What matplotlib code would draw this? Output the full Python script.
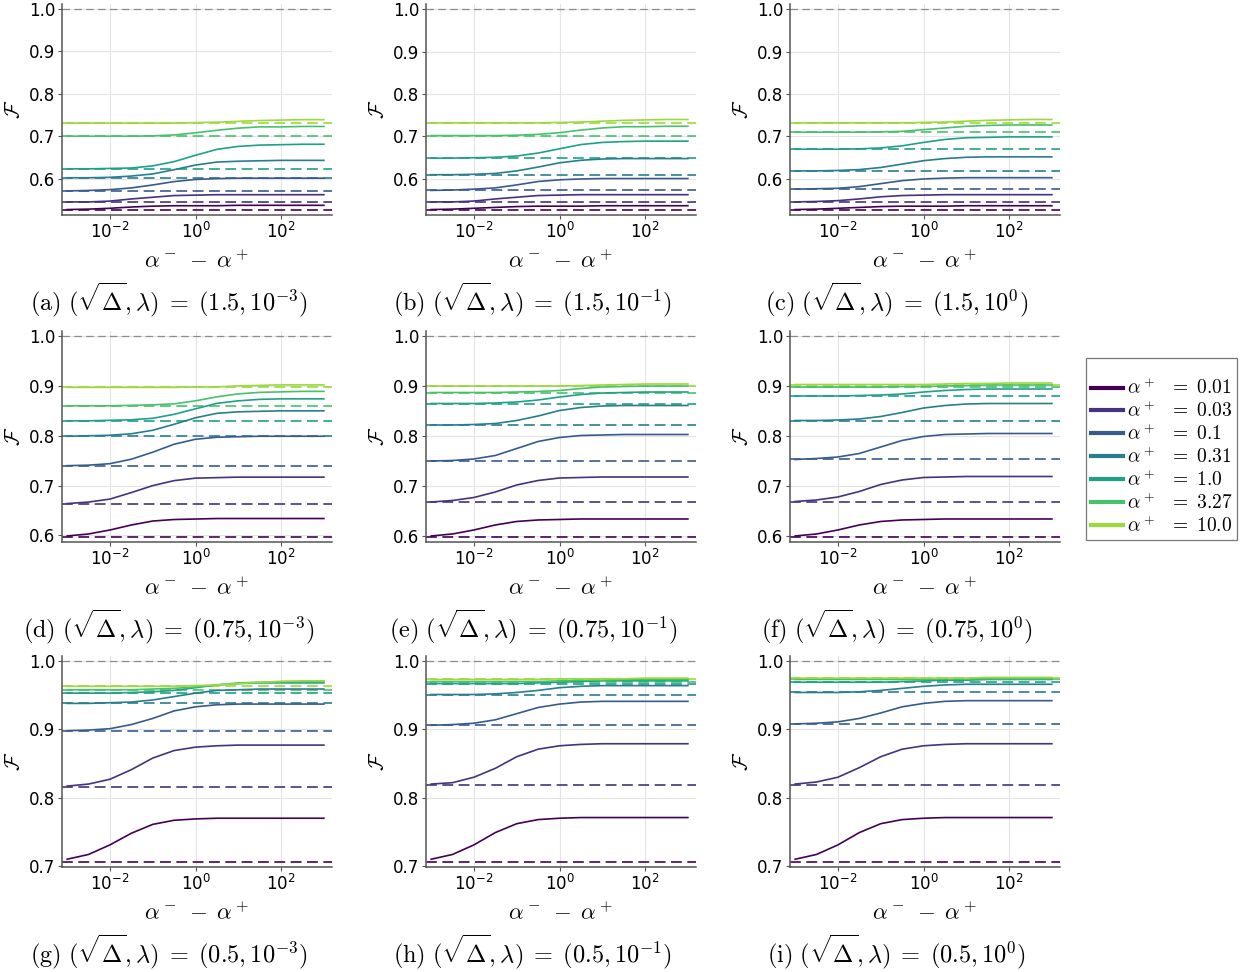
import matplotlib
matplotlib.use("Agg")
import matplotlib.pyplot as plt
from matplotlib.lines import Line2D
from matplotlib.font_manager import FontProperties
from matplotlib.ticker import FixedLocator, LogFormatterSciNotation, MultipleLocator, NullLocator

# x axis: alpha^- - alpha^+  (half-decade samples)
alpha_diff = [0.001, 0.00316, 0.01, 0.0316, 0.1, 0.316, 1.0, 3.16, 10.0, 31.6, 100.0, 316.0, 1000.0]
alpha_plus = [0.01, 0.03, 0.1, 0.31, 1.0, 3.27, 10.0]
sqrt_delta_rows = [1.5, 0.75, 0.5]
lambda_exps = [-3, -1, 0]
panel_letters = ["a", "b", "c", "d", "e", "f", "g", "h", "i"]

# dashed reference levels (one per alpha^+)
base_a = [0.526, 0.544, 0.571, 0.602, 0.623, 0.700, 0.731]
base_b = [0.527, 0.545, 0.573, 0.610, 0.649, 0.702, 0.732]
base_c = [0.527, 0.546, 0.576, 0.619, 0.670, 0.710, 0.732]
base_d = [0.597, 0.663, 0.739, 0.799, 0.830, 0.860, 0.897]
base_e = [0.598, 0.667, 0.749, 0.822, 0.865, 0.887, 0.900]
base_f = [0.598, 0.668, 0.753, 0.831, 0.880, 0.898, 0.903]
base_g = [0.706, 0.815, 0.898, 0.938, 0.953, 0.958, 0.963]
base_h = [0.706, 0.818, 0.906, 0.951, 0.967, 0.970, 0.973]
base_i = [0.706, 0.819, 0.908, 0.954, 0.969, 0.973, 0.975]

# solid curves F(alpha^- - alpha^+)
fid_a = [
    [0.527, 0.528, 0.530, 0.533, 0.535, 0.536, 0.536, 0.536, 0.537, 0.537, 0.537, 0.537, 0.537],
    [0.545, 0.545, 0.547, 0.552, 0.556, 0.560, 0.561, 0.562, 0.562, 0.562, 0.562, 0.562, 0.562],
    [0.571, 0.572, 0.574, 0.578, 0.585, 0.593, 0.598, 0.600, 0.601, 0.601, 0.601, 0.601, 0.601],
    [0.602, 0.602, 0.603, 0.606, 0.611, 0.621, 0.632, 0.639, 0.641, 0.642, 0.643, 0.643, 0.643],
    [0.623, 0.623, 0.624, 0.625, 0.630, 0.640, 0.655, 0.669, 0.676, 0.679, 0.680, 0.681, 0.681],
    [0.700, 0.700, 0.700, 0.700, 0.701, 0.703, 0.708, 0.714, 0.719, 0.722, 0.722, 0.723, 0.723],
    [0.731, 0.731, 0.731, 0.731, 0.731, 0.731, 0.732, 0.733, 0.735, 0.737, 0.738, 0.739, 0.739],
]
fid_b = [
    [0.528, 0.529, 0.531, 0.533, 0.535, 0.536, 0.536, 0.536, 0.537, 0.537, 0.537, 0.537, 0.537],
    [0.546, 0.546, 0.548, 0.553, 0.557, 0.561, 0.562, 0.563, 0.563, 0.563, 0.563, 0.563, 0.563],
    [0.573, 0.574, 0.576, 0.579, 0.586, 0.594, 0.598, 0.600, 0.601, 0.601, 0.601, 0.601, 0.601],
    [0.610, 0.610, 0.611, 0.613, 0.619, 0.628, 0.638, 0.644, 0.647, 0.648, 0.648, 0.648, 0.648],
    [0.649, 0.649, 0.650, 0.651, 0.654, 0.661, 0.671, 0.681, 0.686, 0.688, 0.689, 0.689, 0.689],
    [0.702, 0.702, 0.702, 0.702, 0.703, 0.705, 0.709, 0.715, 0.720, 0.723, 0.723, 0.724, 0.724],
    [0.732, 0.732, 0.732, 0.732, 0.732, 0.732, 0.733, 0.734, 0.736, 0.738, 0.739, 0.740, 0.740],
]
fid_c = [
    [0.528, 0.529, 0.531, 0.533, 0.535, 0.536, 0.536, 0.536, 0.537, 0.537, 0.537, 0.537, 0.537],
    [0.546, 0.547, 0.549, 0.553, 0.558, 0.561, 0.562, 0.563, 0.563, 0.563, 0.563, 0.563, 0.563],
    [0.576, 0.577, 0.578, 0.582, 0.589, 0.596, 0.600, 0.602, 0.603, 0.603, 0.603, 0.603, 0.603],
    [0.619, 0.619, 0.620, 0.622, 0.627, 0.635, 0.643, 0.648, 0.651, 0.652, 0.652, 0.652, 0.652],
    [0.670, 0.670, 0.670, 0.671, 0.673, 0.678, 0.686, 0.693, 0.697, 0.698, 0.699, 0.699, 0.699],
    [0.710, 0.710, 0.710, 0.710, 0.711, 0.712, 0.716, 0.720, 0.724, 0.726, 0.727, 0.727, 0.727],
    [0.732, 0.732, 0.732, 0.732, 0.732, 0.732, 0.733, 0.734, 0.736, 0.738, 0.739, 0.740, 0.740],
]
fid_d = [
    [0.599, 0.603, 0.611, 0.621, 0.629, 0.632, 0.633, 0.634, 0.634, 0.634, 0.634, 0.634, 0.634],
    [0.664, 0.667, 0.673, 0.686, 0.700, 0.710, 0.715, 0.716, 0.717, 0.717, 0.717, 0.717, 0.717],
    [0.740, 0.741, 0.744, 0.753, 0.767, 0.783, 0.793, 0.797, 0.798, 0.799, 0.799, 0.799, 0.799],
    [0.799, 0.800, 0.801, 0.804, 0.811, 0.823, 0.836, 0.845, 0.848, 0.849, 0.850, 0.850, 0.850],
    [0.830, 0.830, 0.831, 0.832, 0.835, 0.843, 0.854, 0.865, 0.870, 0.873, 0.874, 0.874, 0.874],
    [0.860, 0.860, 0.860, 0.861, 0.862, 0.864, 0.870, 0.878, 0.884, 0.887, 0.888, 0.889, 0.889],
    [0.897, 0.897, 0.897, 0.897, 0.897, 0.897, 0.898, 0.898, 0.900, 0.901, 0.902, 0.902, 0.902],
]
fid_e = [
    [0.600, 0.604, 0.612, 0.622, 0.629, 0.632, 0.633, 0.634, 0.634, 0.634, 0.634, 0.634, 0.634],
    [0.668, 0.671, 0.677, 0.688, 0.702, 0.711, 0.716, 0.717, 0.718, 0.718, 0.718, 0.718, 0.718],
    [0.750, 0.751, 0.754, 0.761, 0.775, 0.789, 0.797, 0.801, 0.802, 0.803, 0.803, 0.803, 0.803],
    [0.822, 0.822, 0.823, 0.825, 0.831, 0.840, 0.851, 0.857, 0.860, 0.861, 0.861, 0.861, 0.861],
    [0.865, 0.865, 0.865, 0.866, 0.868, 0.872, 0.878, 0.883, 0.886, 0.887, 0.888, 0.888, 0.888],
    [0.887, 0.887, 0.887, 0.887, 0.888, 0.889, 0.891, 0.895, 0.898, 0.899, 0.900, 0.900, 0.900],
    [0.900, 0.900, 0.900, 0.900, 0.900, 0.900, 0.900, 0.901, 0.902, 0.903, 0.904, 0.904, 0.904],
]
fid_f = [
    [0.600, 0.604, 0.612, 0.622, 0.629, 0.632, 0.633, 0.634, 0.634, 0.634, 0.634, 0.634, 0.634],
    [0.669, 0.672, 0.678, 0.689, 0.703, 0.712, 0.717, 0.718, 0.719, 0.719, 0.719, 0.719, 0.719],
    [0.753, 0.755, 0.758, 0.765, 0.778, 0.791, 0.799, 0.803, 0.804, 0.805, 0.805, 0.805, 0.805],
    [0.831, 0.831, 0.832, 0.834, 0.839, 0.847, 0.856, 0.861, 0.864, 0.865, 0.865, 0.865, 0.865],
    [0.880, 0.880, 0.880, 0.881, 0.882, 0.884, 0.888, 0.891, 0.893, 0.894, 0.894, 0.894, 0.894],
    [0.898, 0.898, 0.898, 0.898, 0.898, 0.899, 0.899, 0.900, 0.901, 0.902, 0.902, 0.902, 0.902],
    [0.903, 0.903, 0.903, 0.903, 0.903, 0.903, 0.903, 0.904, 0.905, 0.905, 0.906, 0.906, 0.906],
]
fid_g = [
    [0.710, 0.717, 0.731, 0.748, 0.761, 0.767, 0.769, 0.770, 0.770, 0.770, 0.770, 0.770, 0.770],
    [0.817, 0.820, 0.827, 0.841, 0.858, 0.869, 0.874, 0.876, 0.877, 0.877, 0.877, 0.877, 0.877],
    [0.898, 0.899, 0.901, 0.907, 0.916, 0.927, 0.933, 0.936, 0.937, 0.937, 0.937, 0.937, 0.937],
    [0.938, 0.938, 0.939, 0.940, 0.943, 0.948, 0.953, 0.957, 0.958, 0.959, 0.959, 0.959, 0.959],
    [0.953, 0.953, 0.953, 0.954, 0.955, 0.957, 0.961, 0.965, 0.967, 0.968, 0.968, 0.968, 0.968],
    [0.958, 0.958, 0.958, 0.958, 0.959, 0.960, 0.962, 0.965, 0.968, 0.969, 0.970, 0.970, 0.970],
    [0.963, 0.963, 0.963, 0.963, 0.963, 0.963, 0.964, 0.965, 0.967, 0.969, 0.970, 0.971, 0.971],
]
fid_h = [
    [0.710, 0.717, 0.731, 0.749, 0.762, 0.768, 0.770, 0.771, 0.771, 0.771, 0.771, 0.771, 0.771],
    [0.820, 0.822, 0.830, 0.843, 0.860, 0.871, 0.876, 0.878, 0.879, 0.879, 0.879, 0.879, 0.879],
    [0.906, 0.907, 0.909, 0.914, 0.923, 0.932, 0.937, 0.940, 0.941, 0.941, 0.941, 0.941, 0.941],
    [0.951, 0.951, 0.951, 0.952, 0.954, 0.957, 0.961, 0.963, 0.964, 0.964, 0.964, 0.964, 0.964],
    [0.967, 0.967, 0.967, 0.967, 0.967, 0.968, 0.969, 0.970, 0.971, 0.971, 0.971, 0.971, 0.971],
    [0.970, 0.970, 0.970, 0.970, 0.970, 0.970, 0.971, 0.972, 0.972, 0.973, 0.973, 0.973, 0.973],
    [0.973, 0.973, 0.973, 0.973, 0.973, 0.973, 0.974, 0.974, 0.974, 0.974, 0.975, 0.975, 0.975],
]
fid_i = [
    [0.710, 0.717, 0.731, 0.749, 0.762, 0.768, 0.770, 0.771, 0.771, 0.771, 0.771, 0.771, 0.771],
    [0.820, 0.823, 0.830, 0.844, 0.860, 0.871, 0.876, 0.878, 0.879, 0.879, 0.879, 0.879, 0.879],
    [0.908, 0.909, 0.911, 0.916, 0.924, 0.933, 0.938, 0.941, 0.942, 0.942, 0.942, 0.942, 0.942],
    [0.954, 0.954, 0.954, 0.955, 0.957, 0.960, 0.963, 0.965, 0.966, 0.966, 0.966, 0.966, 0.966],
    [0.969, 0.969, 0.969, 0.969, 0.969, 0.970, 0.971, 0.972, 0.972, 0.973, 0.973, 0.973, 0.973],
    [0.973, 0.973, 0.973, 0.973, 0.973, 0.973, 0.973, 0.974, 0.974, 0.974, 0.974, 0.974, 0.974],
    [0.975, 0.975, 0.975, 0.975, 0.975, 0.975, 0.975, 0.975, 0.975, 0.976, 0.976, 0.976, 0.976],
]

bases = [base_a, base_b, base_c, base_d, base_e, base_f, base_g, base_h, base_i]
fids = [fid_a, fid_b, fid_c, fid_d, fid_e, fid_f, fid_g, fid_h, fid_i]

cmap = plt.get_cmap("viridis")
colors = [cmap(0.85 * k / 6) for k in range(7)]

W, H = 1242, 972
fig = plt.figure(figsize=(W / 100, H / 100), dpi=100)

col_left = [62, 426, 790]
row_bottom = [215, 542, 867]
cap_x = [169, 533, 897]
ax_w, ax_h = 270, 211
spine_col = "#555555"

for p in range(9):
    r, c = divmod(p, 3)
    ax = fig.add_axes([col_left[c] / W, 1 - row_bottom[r] / H, ax_w / W, ax_h / H])
    ax.set_xscale("log")
    for k in range(7):
        ax.plot(alpha_diff, fids[p][k], color=colors[k], lw=1.2, zorder=3)
        ax.axhline(bases[p][k], color=colors[k], lw=1.2, ls=(0, (6.5, 3.3)), zorder=2)
    ax.axhline(1.0, color="#8c8c8c", lw=0.9, ls=(0, (6, 3.5)), zorder=2)

    lo = min(min(bases[p]), min(min(f) for f in fids[p]))
    rng = 1.0 - lo
    ax.set_ylim(lo - 0.025 * rng, 1.0 + 0.025 * rng)
    ax.set_xlim(10 ** -3.12, 10 ** 3.19)

    ax.xaxis.set_major_locator(FixedLocator([1e-2, 1e0, 1e2]))
    ax.xaxis.set_major_formatter(LogFormatterSciNotation())
    ax.xaxis.set_minor_locator(NullLocator())
    ax.yaxis.set_major_locator(MultipleLocator(0.1))
    ax.yaxis.set_minor_locator(NullLocator())
    ax.tick_params(labelsize=12, length=3, width=0.8, color=spine_col, pad=2)
    ax.grid(True, color="#e4e4e4", lw=0.8, zorder=0)
    for s in ["top", "right"]:
        ax.spines[s].set_visible(False)
    for s in ["left", "bottom"]:
        ax.spines[s].set_color(spine_col)
        ax.spines[s].set_linewidth(1.1)

    ax.set_xlabel(r"$\alpha^-\;-\;\alpha^+$", fontsize=16.5, math_fontfamily="cm")
    ax.xaxis.set_label_coords(0.5, -0.165)
    ax.set_ylabel(r"$\mathcal{F}$", fontsize=15, math_fontfamily="cm")
    ax.yaxis.set_label_coords(-0.14, 0.5)

    cap = (r"$\mathrm{(%s)}\ (\sqrt{\Delta}, \lambda)\;=\;(%s, 10^{%d})$"
           % (panel_letters[p], sqrt_delta_rows[r], lambda_exps[c]))
    fig.text(cap_x[c] / W, 1 - (row_bottom[r] + 85) / H, cap, fontsize=17.5,
             ha="center", va="center", math_fontfamily="cm")

handles = [Line2D([], [], color=colors[k], lw=3) for k in range(7)]
labels = [r"$\alpha^+\ \ =\ %s$" % a for a in alpha_plus]
leg = fig.legend(handles, labels, loc="center left", bbox_to_anchor=(1086 / W, 1 - 449 / H),
                 prop=FontProperties(size=14, math_fontfamily="cm"), frameon=True, fancybox=False,
                 edgecolor="#777777", framealpha=1, borderaxespad=0, handlelength=1.65,
                 handletextpad=0.2, labelspacing=0.12, borderpad=0.25,
                 title=" ", title_fontsize=9)
leg.get_frame().set_linewidth(0.9)

fig.savefig("out.png", dpi=100)
